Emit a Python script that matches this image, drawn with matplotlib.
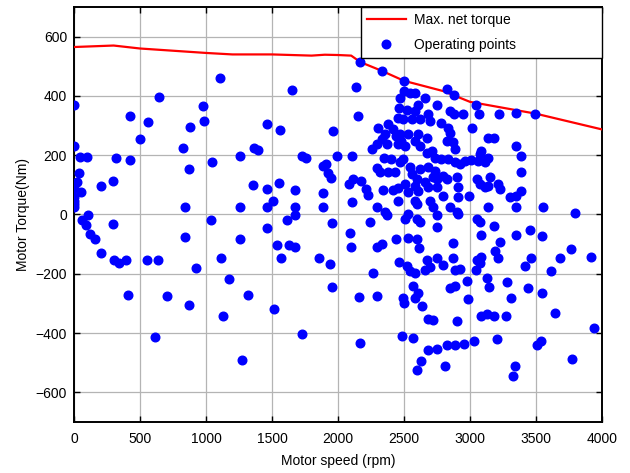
import matplotlib
matplotlib.use("Agg")
import matplotlib.pyplot as plt

plt.rcParams['font.family'] = ['Liberation Sans', 'DejaVu Sans']
plt.rcParams['font.size'] = 10

# Max. net torque curve
curve_rpm = [0, 300, 500, 1000, 1200, 1500, 1800, 1900, 2000, 2100, 2170, 2330, 2500,
             2800, 3000, 3500, 4000]
curve_torque = [565, 570, 560, 545, 540, 540, 536, 539, 538, 536, 514, 485, 451,
                416, 380, 340, 287]

# Operating points
speed_rpm = [
    0, 0, 46, 97, 41, 25, 0, 51, 0, 0, 0, 0, 207, 296, 319, 421, 421, 497, 559, 645,
    829, 870, 878, 839, 974, 985, 1045, 105, 59, 89, 293, 122, 158, 839, 1035,
    207, 301, 344, 395, 551, 638, 411, 701, 926, 870, 615,
    1105, 1653, 1459, 1560, 1963, 1365, 1396, 1257, 1724, 1757, 1989, 1883, 1906, 1926,
    1948, 1358, 1459, 1552, 1671, 1883, 1504, 1257, 1459, 1671, 1883, 1615, 1671, 1459,
    1956, 1257, 1535, 1630, 1671, 1111, 1567, 1855, 1938, 1174, 1320, 1514, 1951, 1126,
    1729, 1272,
    2168, 2330, 2133, 2148, 2461, 2456, 2304, 2380, 2418, 2355, 2443, 2330, 2292, 2368,
    2254, 2456, 2103, 2347, 2405, 2292, 2317, 2380, 2431, 2115, 2082, 2178, 2209, 2229,
    2342, 2418, 2456, 2103, 2292, 2355, 2368, 2456, 2241, 2090,
    2501, 2822, 2880, 2501, 2544, 2582, 2658, 2608, 2747, 2468, 2519, 2582, 2683, 2620,
    2696, 2494, 2557, 2784, 2847, 2880, 2835, 2847, 2822, 2872, 2885, 2468, 2532, 2608,
    2671, 2481, 2582, 2507, 2620, 2671, 2709, 2734, 2784, 2835, 2885, 2494, 2468, 2544,
    2620, 2683, 2734, 2557, 2595, 2658, 2721, 2797, 2507, 2582, 2747, 2822, 2898, 2532,
    2608, 2683, 2747, 2797, 2696, 2721, 2847, 2898, 2582, 2595, 2532, 2507, 2595, 2620,
    2747,
    3042, 3352, 2948, 3069, 3218, 3016, 3137, 3183, 3352, 3390, 3087, 3074, 3137, 3112,
    2923, 2961, 3011, 3061, 3385, 3054, 3079, 3137, 3112, 3150, 3213, 3225, 2910, 2910,
    2991, 3301, 3352, 3352, 3390, 3137, 2910, 3054, 3079, 3183, 3087, 3350,
    3496, 3551, 3793, 3458, 3549, 3763, 3915, 3461, 3680, 3413, 3614, 3440, 3549, 3644,
    3940, 3504, 3539, 3771,
    2095, 2292, 2330, 2443, 2461, 2262, 2158, 2297, 2166,
    2747, 2532, 2595, 2612, 2872, 2519, 2544, 2582, 2658, 2696, 2671, 2747, 2797, 2872,
    2885, 2570, 2608, 2582, 2494, 2501, 2633, 2847, 2885, 2683, 2721, 2898, 2486, 2570,
    2683, 2747, 2822, 2885, 2627, 2595, 2809,
    3225, 3188, 3213, 3082, 3054, 3079, 2923, 3042, 2981, 3132, 3145, 3284, 3314, 2986,
    3087, 3132, 3183, 3271, 2955, 3029, 3208, 3339, 3322,
]
torque_nm = [
    370, 230, 195, 195, 141, 110, 91, 77, 58, 47, 36, 24, 97, 114, 189, 333, 183, 256, 312, 397,
    223, 155, 296, 24, 366, 317, 176, -3, -20, -37, -33, -67, -82, -75, -17,
    -131, -153, -164, -153, -153, -153, -270, -274, -181, -304, -413,
    461, 421, 306, 285, 281, 225, 219, 197, 197, 190, 197, 164, 171, 140,
    122, 100, 85, 107, 83, 72, 46, 25, 25, 25, 25, -17, -1, -45,
    -28, -81, -102, -102, -111, -147, -147, -147, -168, -217, -270, -318, -246, -343,
    -403, -490,
    514, 485, 429, 331, 360, 324, 293, 304, 287, 270, 265, 254, 239, 237,
    220, 237, 198, 192, 187, 157, 142, 144, 145, 120, 103, 112, 86, 67,
    83, 83, 90, 42, 25, 8, -3, 47, -26, -63,
    451, 425, 402, 416, 410, 410, 394, 371, 371, 394, 354, 349, 338, 321,
    315, 321, 321, 310, 349, 340, 293, 276, 248, 243, 220, 271, 271, 271,
    259, 248, 248, 231, 231, 209, 215, 192, 187, 187, 176, 187, 176, 159,
    153, 159, 148, 136, 120, 109, 125, 131, 103, 97, 120, 120, 125, 75,
    80, 92, 92, 64, 47, 25, 25, 8, 47, 36, 2, -14, -14, -26,
    -3,
    371, 343, 338, 338, 338, 291, 257, 257, 231, 197, 215, 204, 192, 176,
    170, 181, 183, 181, 145, 120, 103, 97, 92, 125, 103, 86, 92, 58,
    64, 58, 64, 25, 78, 25, 2, -14, -26, -40, -70, -68,
    340, 25, 5, -52, -72, -118, -143, -146, -148, -173, -190, -249, -266, -331,
    -384, -441, -426, -486,
    -111, -111, -99, -84, -159, -198, -278, -274, -432,
    -41, -80, -84, -114, -97, -175, -192, -198, -186, -178, -153, -147, -170, -147,
    -186, -242, -265, -282, -282, -298, -309, -248, -240, -354, -356, -360, -410, -416,
    -458, -455, -440, -440, -494, -524, -510,
    -94, -122, -147, -142, -153, -162, -184, -186, -223, -214, -245, -229, -282, -285,
    -343, -334, -343, -343, -437, -427, -421, -510, -546,
]

x_ticks = [0, 500, 1000, 1500, 2000, 2500, 3000, 3500, 4000]
y_ticks = [-600, -400, -200, 0, 200, 400, 600]

fig = plt.figure(figsize=(6.30, 4.73), dpi=100)
ax = fig.add_axes([74 / 630, 1 - 422 / 473, (602 - 74) / 630, (422 - 7) / 473])

ax.plot(curve_rpm, curve_torque, color='#ff0000', linewidth=1.6, label='Max. net torque', zorder=3)
ax.plot(speed_rpm, torque_nm, linestyle='none', marker='o', markersize=6.2,
        color='#0000ff', markeredgecolor='#0000ff', label='Operating points', zorder=4)

ax.set_xlim(0, 4000)
ax.set_ylim(-700, 700)
ax.set_xticks(x_ticks)
ax.set_yticks(y_ticks)
ax.grid(True, color='#b4b4b4', linewidth=0.9, linestyle='-')
ax.set_axisbelow(True)
ax.tick_params(direction='in', top=True, right=True, length=4, width=1, labelsize=10)
ax.tick_params(axis='x', pad=7)
ax.tick_params(axis='y', pad=5)
for s in ax.spines.values():
    s.set_linewidth(1.4)
    s.set_color('black')

ax.set_xlabel('Motor speed (rpm)', fontsize=10, labelpad=6)
ax.set_ylabel('Motor Torque(Nm)', fontsize=10, labelpad=4)

leg = ax.legend(loc='upper left', bbox_to_anchor=(0.543, 0, 0.457, 1.0), mode='expand',
                borderaxespad=0, fancybox=False, framealpha=1, edgecolor='black',
                handlelength=2.8, handletextpad=0.6, labelspacing=0.75, borderpad=0.45,
                fontsize=10, numpoints=1)
leg.get_frame().set_linewidth(1.0)

fig.savefig('out.png', dpi=100)
